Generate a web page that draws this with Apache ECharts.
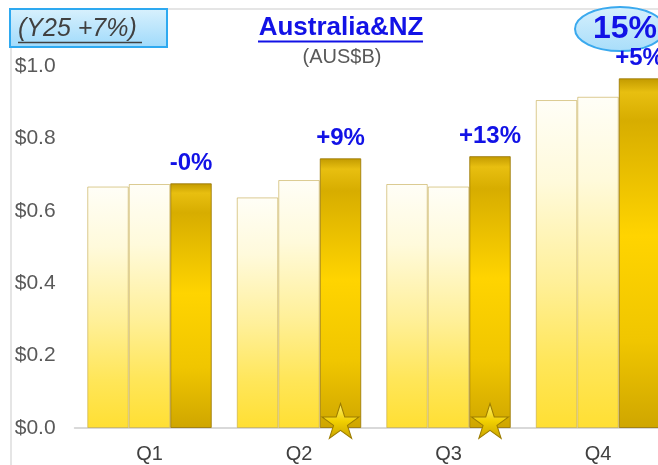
<!DOCTYPE html>
<html>
<head>
<meta charset="utf-8">
<script src="https://cdn.jsdelivr.net/npm/echarts@6/dist/echarts.min.js"></script>
<style>
html,body{margin:0;padding:0;background:#fff;}
#chart{width:658px;height:465px;}
</style>
</head>
<body>
<div id="chart"></div>
<script>
// ---- data ----
const categories = ['Q1', 'Q2', 'Q3', 'Q4'];
const seriesA = [0.667, 0.637, 0.674, 0.906];
const seriesB = [0.674, 0.685, 0.667, 0.915];
const seriesC = [0.676, 0.745, 0.751, 0.966];
const growthLabels = ['-0%', '+9%', '+13%', '+5%'];
const starQuarters = ['Q2', 'Q3'];
const titleText = 'Australia&NZ';
const subtitleText = '(AUS$B)';
const yearNote = '(Y25 +7%)';
const badgeText = '15%';

const FONT = '"Liberation Sans", Arial, sans-serif';
const chart = echarts.init(document.getElementById('chart'), null, { renderer: 'canvas' });

const lightGrad = new echarts.graphic.LinearGradient(0, 0, 0, 1, [
  { offset: 0, color: '#fffef7' },
  { offset: 0.25, color: '#fffadb' },
  { offset: 0.55, color: '#fff09a' },
  { offset: 0.8, color: '#ffe659' },
  { offset: 1, color: '#ffdf33' }
]);
const goldGrad = new echarts.graphic.LinearGradient(0, 0, 0, 1, [
  { offset: 0, color: '#c29a00' },
  { offset: 0.04, color: '#e8bf10' },
  { offset: 0.12, color: '#d7ad00' },
  { offset: 0.45, color: '#ffd400' },
  { offset: 0.75, color: '#f0c600' },
  { offset: 1, color: '#cfa600' }
]);

const starPath = 'path://M50,0 L61,35 L98,35 L68,57 L79,91 L50,70 L21,91 L32,57 L2,35 L39,35 Z';

const option = {
  animation: false,
  backgroundColor: '#ffffff',
  grid: { left: 74.75, right: -14.75, top: 66, bottom: 37, outerBoundsMode: 'none', containLabel: false },
  xAxis: {
    type: 'category',
    data: categories,
    axisLine: { show: true, lineStyle: { color: '#d9d9d9', width: 2 } },
    axisTick: { show: false },
    axisLabel: { color: '#404040', fontSize: 20, fontFamily: FONT, margin: 16 }
  },
  yAxis: {
    type: 'value',
    min: 0, max: 1.0, interval: 0.2,
    axisLine: { show: false },
    axisTick: { show: false },
    splitLine: { show: false },
    axisLabel: {
      color: '#595959', fontSize: 21, fontFamily: FONT, align: 'left', margin: 60,
      formatter: v => '$' + v.toFixed(1)
    }
  },
  series: [
    {
      type: 'bar', data: seriesA, barWidth: 41.5, barGap: '0%',
      itemStyle: { color: lightGrad, borderColor: 'rgba(190,160,60,0.55)', borderWidth: 1 }
    },
    {
      type: 'bar', data: seriesB, barWidth: 41.5, barGap: '0%',
      itemStyle: { color: lightGrad, borderColor: 'rgba(190,160,60,0.55)', borderWidth: 1 }
    },
    {
      type: 'bar', data: seriesC, barWidth: 41.5, barGap: '0%',
      itemStyle: { color: goldGrad, borderColor: 'rgba(150,115,0,0.8)', borderWidth: 1 },
      label: {
        show: true, position: 'top', distance: 8,
        formatter: p => growthLabels[p.dataIndex],
        color: '#1212e6', fontSize: 24, fontWeight: 'bold', fontFamily: FONT
      },
      markPoint: {
        symbol: starPath,
        symbolSize: [37, 35],
        symbolOffset: [0, -7],
        label: { show: false },
        itemStyle: {
          color: new echarts.graphic.LinearGradient(0, 0, 0, 1, [
            { offset: 0, color: '#fff27a' },
            { offset: 0.5, color: '#f2d000' },
            { offset: 1, color: '#c9a400' }
          ]),
          borderColor: '#9c7c00', borderWidth: 1
        },
        data: starQuarters.map(q => ({ coord: [q, 0] }))
      }
    }
  ],
  graphic: [
    { type: 'line', shape: { x1: 11, y1: 47, x2: 11, y2: 465 }, style: { stroke: '#dcdcdc', lineWidth: 1.5 } },
    { type: 'line', shape: { x1: 167, y1: 9, x2: 658, y2: 9 }, style: { stroke: '#dcdcdc', lineWidth: 1.5 } },
    {
      type: 'rect', shape: { x: 10, y: 9, width: 157, height: 38 },
      style: {
        fill: new echarts.graphic.LinearGradient(0, 0, 0, 1, [
          { offset: 0, color: '#d9f1fd' }, { offset: 1, color: '#9fdafb' }
        ]),
        stroke: '#2ea9f0', lineWidth: 2
      }
    },
    {
      type: 'text', x: 18, y: 29,
      style: { text: yearNote, fill: '#404040', font: 'italic 25px ' + FONT, textVerticalAlign: 'middle', textAlign: 'left' }
    },
    { type: 'line', shape: { x1: 18, y1: 42.5, x2: 142, y2: 42.5 }, style: { stroke: '#404040', lineWidth: 1.5 } },
    {
      type: 'text', x: 341, y: 28,
      style: { text: titleText, fill: '#1212e6', font: 'bold 26px ' + FONT, textVerticalAlign: 'middle', textAlign: 'center' }
    },
    { type: 'line', shape: { x1: 258, y1: 41.5, x2: 423, y2: 41.5 }, style: { stroke: '#1212e6', lineWidth: 2 } },
    {
      type: 'text', x: 342, y: 57,
      style: { text: subtitleText, fill: '#595959', font: '20px ' + FONT, textVerticalAlign: 'middle', textAlign: 'center' }
    },
    {
      type: 'ellipse', shape: { cx: 620, cy: 29, rx: 45, ry: 22 },
      style: {
        fill: new echarts.graphic.LinearGradient(0, 0, 0, 1, [
          { offset: 0, color: '#d6f0fd' }, { offset: 1, color: '#a8ddfa' }
        ]),
        stroke: '#3aa9ee', lineWidth: 2
      }
    },
    {
      type: 'text', x: 625, y: 29,
      style: { text: badgeText, fill: '#1212e6', font: 'bold 32px ' + FONT, textVerticalAlign: 'middle', textAlign: 'center' }
    }
  ]
};
chart.setOption(option);
</script>
</body>
</html>
